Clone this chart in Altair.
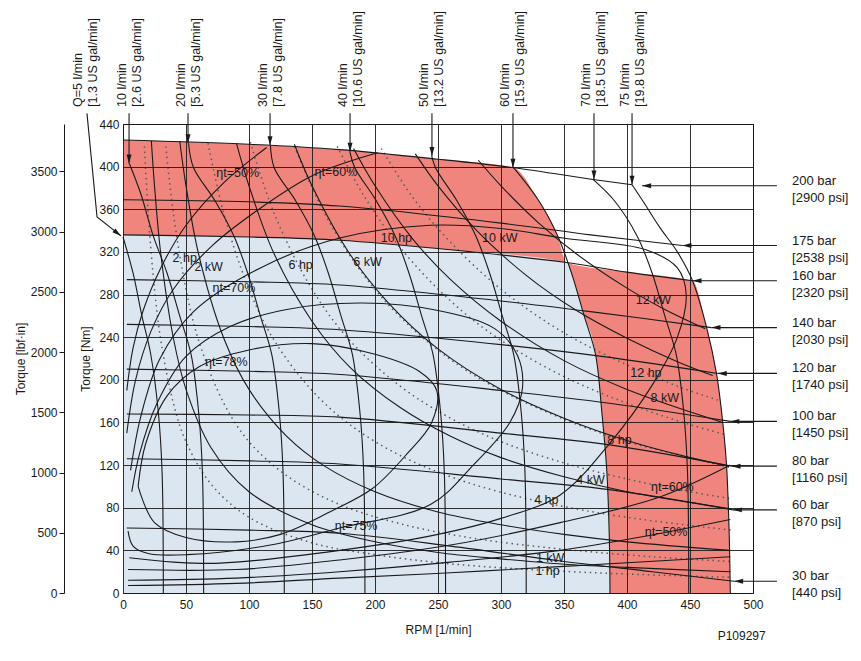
import altair as alt
import pandas as pd

FONT = "Liberation Sans"
INK = "#1a1a1a"
RED = "#F0857E"
BLUE = "#DCE6F1"

# ---------------- axes ----------------
rpm_ticks = [0, 50, 100, 150, 200, 250, 300, 350, 400, 450, 500]
nm_ticks = [0, 40, 80, 120, 160, 200, 240, 280, 320, 360, 400, 440]
lbf_ticks = [0, 500, 1000, 1500, 2000, 2500, 3000, 3500]
lbf_domain_max = 3894.3  # 440 Nm expressed in lbf.in

# ---------------- operating regions ----------------
red_rpm = [0, 100, 172, 250, 310, 330, 345, 352, 400, 452, 463, 471, 476, 479, 481, 482]
red_nm = [425, 421, 416, 407, 399, 368, 335, 310, 301, 293, 250, 206, 160, 120, 60, 0]
blue_rpm = [0, 100, 172, 260, 352, 356, 366, 375, 380, 384, 386, 386.5]
blue_nm = [336, 334, 331, 322, 310, 300, 260, 224, 170, 114, 50, 0]

# ---------------- pressure lines ----------------
pressure_top = ["30 bar", "60 bar", "80 bar", "100 bar", "120 bar", "140 bar", "160 bar", "175 bar", "200 bar"]
pressure_psi = ["[440 psi]", "[870 psi]", "[1160 psi]", "[1450 psi]", "[1740 psi]", "[2030 psi]", "[2320 psi]", "[2538 psi]", "[2900 psi]"]
pressure_rpm = [
    [3, 100, 172, 260, 347, 420, 485],
    [3, 100, 172, 300, 386, 484],
    [3, 100, 172, 300, 386, 483],
    [3, 100, 172, 300, 386, 482],
    [3, 100, 172, 300, 380, 472],
    [3, 100, 172, 300, 371, 467],
    [0, 100, 172, 260, 352, 400, 452],
    [0, 100, 172, 300, 371, 444],
    [0, 100, 172, 250, 310, 373, 404],
]
pressure_nm = [
    [61, 59, 56, 44, 30, 20, 11],
    [126, 124, 121, 107, 97, 78],
    [168, 167, 165, 150, 139, 119],
    [210, 208, 205, 190, 178, 161],
    [252, 250, 247, 233, 222, 206],
    [294, 292, 289, 274, 264, 249],
    [336, 334, 331, 322, 310, 301, 293],
    [369, 367, 363, 347, 336, 326],
    [425, 421, 416, 407, 399, 388, 383],
]
pressure_tip_rpm = [485, 484, 483, 482, 472, 467, 452, 444, 412]
pressure_tip_nm = [11, 78, 119, 161, 206, 249, 293, 326, 382]

# ---------------- flow lines ----------------
flow_top = ["Q=5 l/min", "10 l/min", "20 l/min", "30 l/min", "40 l/min", "50 l/min", "60 l/min", "70 l/min", "75 l/min"]
flow_us = ["[1.3 US gal/min]", "[2.6 US gal/min]", "[5.3 US gal/min]", "[7.8 US gal/min]", "[10.6 US gal/min]",
           "[13.2 US gal/min]", "[15.9 US gal/min]", "[18.5 US gal/min]", "[19.8 US gal/min]"]
flow_rpm = [
    [0, 8, 15, 22, 28, 31, 32],
    [5, 14, 24, 35, 45, 54, 60, 63, 64],
    [52, 56, 73, 88, 99, 109, 118, 124, 127, 128],
    [117, 120, 137, 152, 163, 173, 182, 188, 191, 192],
    [180, 184, 201, 216, 227, 237, 246, 252, 255, 256],
    [245, 248, 265, 280, 291, 301, 310, 316, 319, 320],
    [310, 330, 345, 356, 366, 375, 380, 384, 386, 386.5],
    [373, 390, 408, 420, 430, 439, 445, 448, 449],
    [404, 413, 426, 440, 452, 463, 471, 476, 479, 481, 482],
]
flow_nm = [
    [334, 300, 260, 224, 170, 114, 0],
    [403, 375, 335, 300, 260, 224, 170, 114, 0],
    [422, 399, 368, 335, 300, 260, 224, 170, 114, 0],
    [420, 399, 368, 335, 300, 260, 224, 170, 114, 0],
    [414, 399, 368, 335, 300, 260, 224, 170, 114, 0],
    [410, 399, 368, 335, 300, 260, 224, 170, 114, 0],
    [399, 368, 335, 300, 260, 224, 170, 114, 50, 0],
    [388, 368, 335, 300, 260, 224, 170, 114, 0],
    [383, 367, 343, 320, 293, 250, 206, 160, 120, 60, 0],
]
flow_label_rpm = [-29.8, 4.8, 51.6, 116.7, 180.2, 245.2, 309.5, 373.8, 404.0]
flow_tip_nm = [None, 403, 422, 420, 414, 410, 399, 388, 383]
q5_leader_rpm = [-28.6, -20.6, -1.6]
q5_leader_nm = [450, 352.7, 335]

# ---------------- power lines ----------------
kw_names = ["1 kW", "2 kW", "4 kW", "6 kW", "8 kW", "10 kW", "12 kW"]
kw_rpm = [
    [22.5, 25, 30, 40, 50, 70, 100, 150, 200, 250, 300, 350, 400, 482],
    [45, 50, 60, 80, 100, 130, 160, 200, 250, 300, 350, 400, 482],
    [90, 100, 120, 150, 180, 220, 260, 300, 350, 400, 450, 482],
    [136, 150, 180, 210, 250, 300, 350, 400, 450, 481],
    [183, 200, 230, 260, 300, 350, 400, 450, 476],
    [232, 250, 280, 320, 360, 400, 440, 468],
    [282, 300, 330, 360, 400, 430, 462],
]
kw_nm = [
    [424, 382, 318, 239, 191, 136, 95, 64, 48, 38, 32, 27, 24, 20],
    [424, 382, 318, 239, 191, 147, 119, 95, 76, 64, 55, 48, 40],
    [422, 382, 318, 255, 212, 174, 147, 127, 109, 95, 85, 79],
    [421, 382, 318, 273, 229, 191, 164, 143, 127, 119],
    [417, 382, 332, 294, 255, 218, 191, 170, 160],
    [412, 382, 341, 298, 265, 239, 217, 204],
    [406, 382, 347, 318, 286, 266, 248],
]
hp_names = ["1 hp", "2 hp", "4 hp", "6 hp", "8 hp", "10 hp", "12 hp"]
hp_rpm = [
    [17, 20, 25, 30, 40, 50, 70, 100, 150, 200, 250, 300, 350, 400, 483],
    [34, 40, 50, 60, 80, 100, 130, 170, 220, 280, 350, 420, 483],
    [67.5, 80, 100, 120, 150, 180, 220, 270, 330, 400, 483],
    [101, 120, 150, 180, 220, 260, 300, 350, 400, 450, 482],
    [136, 160, 190, 220, 260, 300, 350, 400, 450, 481],
    [170, 190, 220, 260, 300, 350, 400, 450, 477],
    [205, 230, 260, 300, 350, 400, 440, 472],
]
hp_nm = [
    [419, 356, 285, 237, 178, 142, 102, 71, 47, 36, 28.5, 23.7, 20.3, 17.8, 14.7],
    [419, 356, 285, 237, 178, 142, 110, 84, 65, 51, 41, 34, 29.5],
    [422, 356, 285, 237, 190, 158, 129, 105, 86, 71, 59],
    [423, 356, 285, 237, 194, 164, 142, 122, 107, 95, 88.6],
    [419, 356, 300, 259, 219, 190, 163, 142, 127, 118],
    [419, 375, 324, 274, 237, 203, 178, 158, 149],
    [417, 371, 329, 285, 244, 214, 194, 181],
]
power_label_text = ["1 kW", "1 hp", "2 hp", "2 kW", "4 kW", "4 hp", "6 hp", "6 kW",
                    "8 kW", "8 hp", "10 hp", "10 kW", "12 kW", "12 hp"]
power_label_rpm = [339, 337, 49, 68, 371, 336, 141, 194, 430, 394, 217, 299, 421, 415]
power_label_nm = [33, 21, 314, 306, 106, 87, 308, 311, 183, 144, 333, 333, 275, 206]

# ---------------- efficiency contours ----------------
eff_rpm = [
    [12, 18, 35, 60, 100, 150, 200, 235, 249, 245, 225, 198, 164, 125, 90, 50, 25, 12],          # 78 %
    [4, 8, 20, 51, 117, 172, 244, 278, 307, 317, 313, 295, 250, 190, 130, 85, 50, 27, 13, 7],   # 75 %
    [5, 40, 77, 172, 250, 300, 347, 386, 420, 440, 447, 440, 415, 349, 300, 244, 172, 109, 56, 29, 14, 6],  # 70 %
    [3, 10, 22, 40, 70, 109, 151, 202],          # 60 % upper
    [4, 90, 172, 260, 347, 426, 482],            # 60 % lower
    [3, 8, 16, 30, 50, 80, 114],                 # 50 % upper
    [4, 90, 172, 260, 347, 413, 482],            # 50 % lower
    [4, 90, 172, 260, 350, 482],                 # lowest contour
]
eff_nm = [
    [100, 140, 185, 212, 228, 234, 224, 208, 190, 160, 130, 98, 76, 55, 48, 52, 66, 100],
    [58, 44, 37, 36, 45, 61, 83, 120, 160, 192, 223, 248, 265, 272, 266, 250, 222, 178, 130, 95],
    [33, 29, 28, 40, 55, 70, 92, 140, 195, 240, 280, 305, 322, 333, 342, 345, 333, 305, 264, 219, 165, 115],
    [150, 200, 245, 285, 325, 361, 392, 413],
    [22, 22, 31, 45, 66, 90, 120],
    [190, 230, 265, 305, 345, 385, 418],
    [12, 14, 20, 29, 40, 53, 69],
    [7, 9, 14, 19, 25, 34],
]
eff_label_text = ["ηt=50%", "ηt=60%", "ηt=70%", "ηt=78%", "ηt=75%", "ηt=60%", "ηt=50%"]
eff_label_rpm = [91, 169, 88, 82, 185, 436, 431]
eff_label_nm = [394, 395, 286, 217, 63, 99, 57]

label_top_nm = 456
arrow_top_nm = 450
right_arrow_tail_rpm = 519
right_label_rpm = 531

# ---------------- tables ----------------
def long_table(prefix, xs_list, ys_list):
    rows = []
    for k, (xs, ys) in enumerate(zip(xs_list, ys_list)):
        for i, (a, b) in enumerate(zip(xs, ys)):
            rows.append({"cid": f"{prefix}{k}", "i": i, "rpm": a, "nm": b})
    return rows

solid_rows = (long_table("p", pressure_rpm, pressure_nm) + long_table("f", flow_rpm, flow_nm)
              + long_table("k", kw_rpm, kw_nm) + long_table("e", eff_rpm, eff_nm))
solid_df = pd.DataFrame(solid_rows)
dotted_df = pd.DataFrame(long_table("h", hp_rpm, hp_nm))
red_df = pd.DataFrame({"rpm": red_rpm, "nm": red_nm})
blue_df = pd.DataFrame({"rpm": blue_rpm, "nm": blue_nm})

labels_df = pd.DataFrame({
    "rpm": power_label_rpm + eff_label_rpm,
    "nm": power_label_nm + eff_label_nm,
    "txt": power_label_text + eff_label_text,
})

top_df = pd.DataFrame({
    "rpm": flow_label_rpm,
    "nm": [label_top_nm] * len(flow_label_rpm),
    "txt": [a + "\n" + b for a, b in zip(flow_top, flow_us)],
})
top_arrow_df = pd.DataFrame({
    "rpm": flow_label_rpm[1:],
    "nm": [arrow_top_nm] * (len(flow_label_rpm) - 1),
    "nm2": flow_tip_nm[1:],
})
q5_df = pd.DataFrame({"rpm": q5_leader_rpm, "nm": q5_leader_nm, "i": [0, 1, 2]})
q5_tip_df = q5_df.iloc[[-1]]

right_df = pd.DataFrame({
    "rpm": [right_arrow_tail_rpm] * len(pressure_tip_rpm),
    "rpm2": pressure_tip_rpm,
    "nm": pressure_tip_nm,
    "lrpm": [right_label_rpm] * len(pressure_tip_rpm),
    "txt": [a + "\n" + b for a, b in zip(pressure_top, pressure_psi)],
})
code_df = pd.DataFrame({"rpm": [491], "nm": [-40], "txt": ["P109297"]})

# ---------------- encodings ----------------
xaxis = alt.Axis(values=rpm_ticks, grid=True, gridColor=INK, gridWidth=0.9, gridOpacity=1,
                 ticks=False, domain=False, labelPadding=6, labelFlush=False,
                 title="RPM [1/min]", titleY=36, titleBaseline="middle", zindex=1)
yaxis = alt.Axis(values=nm_ticks, grid=True, gridColor=INK, gridWidth=0.9, gridOpacity=1,
                 ticks=False, domain=False, labelPadding=4, labelFlush=False,
                 title="Torque [Nm]", titleX=-38, titleY=234.5, titleAngle=270,
                 titleAlign="center", titleBaseline="middle", zindex=1)
xscale = alt.Scale(domain=[0, 500], nice=False, zero=False)
yscale = alt.Scale(domain=[0, 440], nice=False, zero=False)


def X(field="rpm"):
    return alt.X(f"{field}:Q", scale=xscale, axis=xaxis)


def Y(field="nm"):
    return alt.Y(f"{field}:Q", scale=yscale, axis=yaxis)


red_layer = alt.Chart(red_df).mark_area(color=RED, interpolate="monotone").encode(x=X(), y=Y())
blue_layer = alt.Chart(blue_df).mark_area(color=BLUE, interpolate="monotone").encode(x=X(), y=Y())

solid_layer = alt.Chart(solid_df).mark_line(color=INK, strokeWidth=1.1, interpolate="catmull-rom").encode(
    x=X(), y=Y(), detail="cid:N", order="i:Q")
dotted_layer = alt.Chart(dotted_df).mark_line(color="#5a5a5a", strokeWidth=1.5, strokeDash=[1.5, 3.8],
                                              interpolate="catmull-rom").encode(
    x=X(), y=Y(), detail="cid:N", order="i:Q")

label_layer = alt.Chart(labels_df).mark_text(font=FONT, fontSize=12.5, color=INK).encode(
    x=X(), y=Y(), text="txt:N")

top_text = alt.Chart(top_df).mark_text(font=FONT, fontSize=12.5, color=INK, angle=270, align="left",
                                       baseline="middle", lineBreak="\n", lineHeight=15, dy=-7.5).encode(
    x=X(), y=Y(), text="txt:N")
top_rules = alt.Chart(top_arrow_df).mark_rule(color=INK, strokeWidth=1.1).encode(
    x=X(), y=Y(), y2=alt.Y2("nm2:Q"))
top_heads = alt.Chart(top_arrow_df).mark_point(shape="M-0.55,-1L0.55,-1L0,1Z", size=81, filled=True,
                                               color=INK, opacity=1, yOffset=-4.5).encode(
    x=X(), y=Y("nm2"))
q5_line = alt.Chart(q5_df).mark_line(color=INK, strokeWidth=1.1).encode(x=X(), y=Y(), order="i:Q")
q5_head = alt.Chart(q5_tip_df).mark_point(shape="M-1,-0.55L-1,0.55L1,0Z", size=81, filled=True,
                                          color=INK, opacity=1, angle=38, xOffset=-3.5, yOffset=-2.8).encode(
    x=X(), y=Y())

right_rules = alt.Chart(right_df).mark_rule(color=INK, strokeWidth=1.1).encode(
    x=X(), x2=alt.X2("rpm2:Q"), y=Y())
right_heads = alt.Chart(right_df).mark_point(shape="M1,-0.55L1,0.55L-1,0Z", size=81, filled=True,
                                             color=INK, opacity=1, xOffset=4.5).encode(
    x=X("rpm2"), y=Y())
right_text = alt.Chart(right_df).mark_text(font=FONT, fontSize=13, color=INK, align="left",
                                           baseline="middle", lineBreak="\n", lineHeight=17, dy=-5).encode(
    x=X("lrpm"), y=Y(), text="txt:N")
code_text = alt.Chart(code_df).mark_text(font=FONT, fontSize=12, color=INK).encode(
    x=X(), y=Y(), text="txt:N")

main = alt.layer(red_layer, blue_layer, dotted_layer, solid_layer, label_layer,
                 top_rules, top_heads, q5_line, q5_head, top_text,
                 right_rules, right_heads, right_text, code_text)

lbf_layer = alt.Chart(pd.DataFrame({"lbf": lbf_ticks})).mark_point(opacity=0).encode(
    y=alt.Y("lbf:Q", scale=alt.Scale(domain=[0, lbf_domain_max], nice=False, zero=False),
            axis=alt.Axis(values=lbf_ticks, format="d", orient="left", offset=59, grid=False, ticks=True,
                          tickSize=5, tickColor=INK, domain=True, domainColor=INK, labelPadding=2,
                          labelFlush=False, title="Torque [lbf·in]", titleX=-44, titleY=234.5,
                          titleAngle=270, titleAlign="center", titleBaseline="middle")))

chart = alt.layer(main, lbf_layer).resolve_scale(y="independent").properties(
    width=630, height=469,
    autosize=alt.AutoSizeParams(type="none"),
    padding={"left": 115, "top": 116, "right": 100, "bottom": 52},
).configure_view(stroke=INK, strokeWidth=1).configure_axis(
    labelFont=FONT, titleFont=FONT, labelFontSize=12, titleFontSize=12,
    titleFontWeight="normal", labelColor=INK, titleColor=INK)

chart.save("out.html", embed_options={"renderer": "svg", "actions": False})
